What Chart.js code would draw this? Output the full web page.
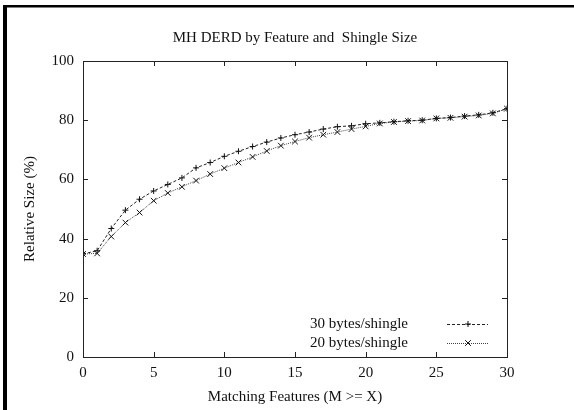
<!DOCTYPE html>
<html>
<head>
<meta charset="utf-8">
<script src="https://cdn.jsdelivr.net/npm/chart.js@4/dist/chart.umd.min.js"></script>
<style>
  html, body { margin: 0; padding: 0; background: #fff; }
  canvas { display: block; }
</style>
</head>
<body>
<canvas id="chart" width="574" height="410"></canvas>
<script>
const chartTitle = 'MH DERD by Feature and  Shingle Size'
const xTitle = 'Matching Features (M >= X)'
const yTitle = 'Relative Size (%)'

const features = [0, 1, 2, 3, 4, 5, 6, 7, 8, 9, 10, 11, 12, 13, 14, 15, 16, 17, 18, 19, 20, 21, 22, 23, 24, 25, 26, 27, 28, 29, 30]
const bytes30 = [34.8, 35.9, 43.4, 49.6, 53.3, 56.1, 58.3, 60.5, 63.9, 65.7, 67.8, 69.5, 71.1, 72.6, 74.0, 75.1, 76.0, 77.0, 77.8, 78.1, 78.8, 79.1, 79.5, 79.8, 80.0, 80.6, 80.9, 81.4, 81.8, 82.5, 83.9]
const bytes20 = [34.8, 35.0, 40.7, 45.4, 48.8, 52.8, 55.4, 57.5, 59.6, 61.8, 63.8, 65.7, 67.6, 69.6, 71.4, 72.8, 74.1, 75.1, 76.0, 77.0, 77.9, 78.9, 79.4, 79.7, 79.9, 80.6, 80.8, 81.2, 81.6, 82.3, 83.9]
const seriesNames = ['30 bytes/shingle', '20 bytes/shingle']

const font = "'Liberation Serif', 'DejaVu Serif', serif"

const toPoints = (ys) => features.map((x, i) => ({ x, y: ys[i] }))

// gnuplot-style frame, inward ticks, title and key
const gnuplotLook = {
  id: 'gnuplotLook',
  afterDraw(chart) {
    const { ctx, chartArea: a, scales } = chart
    ctx.save()

    // outer page frame (top + left)
    ctx.fillStyle = '#000'
    ctx.fillRect(3, 5, 571, 2.5)
    ctx.fillRect(3, 5, 4, 405)

    // plot border
    ctx.strokeStyle = '#222'
    ctx.lineWidth = 1
    ctx.strokeRect(Math.round(a.left) + 0.5, Math.round(a.top) + 0.5, Math.round(a.right - a.left), Math.round(a.bottom - a.top))

    // inward ticks on all four sides
    const tl = 5
    ctx.beginPath()
    scales.x.ticks.forEach((t) => {
      const px = Math.round(scales.x.getPixelForValue(t.value)) + 0.5
      ctx.moveTo(px, a.bottom); ctx.lineTo(px, a.bottom - tl)
      ctx.moveTo(px, a.top); ctx.lineTo(px, a.top + tl)
    })
    scales.y.ticks.forEach((t) => {
      const py = Math.round(scales.y.getPixelForValue(t.value)) + 0.5
      ctx.moveTo(a.left, py); ctx.lineTo(a.left + tl, py)
      ctx.moveTo(a.right, py); ctx.lineTo(a.right - tl, py)
    })
    ctx.stroke()

    // title
    ctx.fillStyle = '#111'
    ctx.font = '15px ' + font
    ctx.textAlign = 'center'
    ctx.textBaseline = 'middle'
    ctx.fillText(chartTitle, (a.left + a.right) / 2, 38)

    // key
    const rows = [324, 343]
    chart.data.datasets.forEach((ds, i) => {
      const y = rows[i]
      ctx.fillStyle = '#111'
      ctx.textAlign = 'right'
      ctx.fillText(ds.label, 408, y)
      ctx.strokeStyle = ds.borderColor
      ctx.setLineDash(ds.borderDash)
      ctx.beginPath()
      ctx.moveTo(447, y + 0.5); ctx.lineTo(488, y + 0.5)
      ctx.stroke()
      ctx.setLineDash([])
      ctx.strokeStyle = ds.pointBorderColor
      Chart.helpers.drawPoint(ctx, { pointStyle: ds.pointStyle, radius: ds.pointRadius, borderWidth: 1, rotation: 0 }, 468, y)
    })
    ctx.restore()
  },
}

new Chart(document.getElementById('chart'), {
  type: 'line',
  data: {
    datasets: [
      {
        label: seriesNames[0],
        data: toPoints(bytes30),
        borderColor: '#222',
        borderWidth: 1,
        borderDash: [3, 2],
        pointStyle: 'cross',
        pointRadius: 3,
        pointBorderColor: '#111',
        pointBorderWidth: 1,
        fill: false,
        tension: 0,
      },
      {
        label: seriesNames[1],
        data: toPoints(bytes20),
        borderColor: '#444',
        borderWidth: 1,
        borderDash: [1, 1],
        pointStyle: 'crossRot',
        pointRadius: 4,
        pointBorderColor: '#111',
        pointBorderWidth: 1,
        fill: false,
        tension: 0,
      },
    ],
  },
  options: {
    responsive: false,
    animation: false,
    devicePixelRatio: 1,
    layout: { padding: { left: 0, right: 67, top: 61, bottom: 0 } },
    plugins: {
      legend: { display: false },
      title: { display: false },
      tooltip: { enabled: false },
    },
    scales: {
      x: {
        type: 'linear',
        min: 0,
        max: 30,
        afterFit: (s) => { s.height = 53 },
        grid: { display: false, drawTicks: false },
        border: { display: false },
        ticks: { stepSize: 5, padding: 7, color: '#111', font: { family: font, size: 15 } },
        title: { display: true, text: xTitle, color: '#111', padding: { top: 0, bottom: 4 }, font: { family: font, size: 15 } },
      },
      y: {
        min: 0,
        max: 100,
        afterFit: (s) => { s.width = 83 },
        grid: { display: false, drawTicks: false },
        border: { display: false },
        ticks: { stepSize: 20, padding: 9, color: '#111', font: { family: font, size: 15 } },
        title: { display: true, text: yTitle, color: '#111', padding: { top: 21, bottom: 0 }, font: { family: font, size: 15 } },
      },
    },
  },
  plugins: [gnuplotLook],
})
</script>
</body>
</html>
